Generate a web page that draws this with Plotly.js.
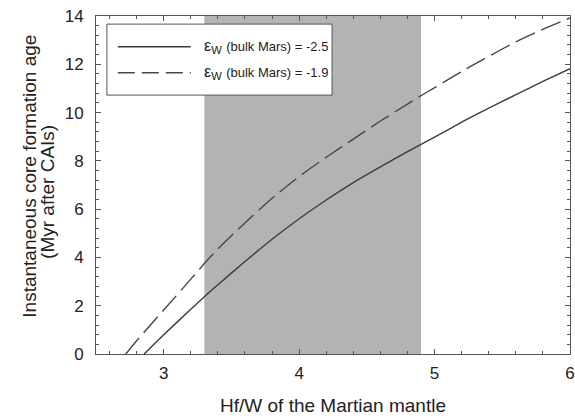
<!DOCTYPE html>
<html>
<head>
<meta charset="utf-8">
<script src="https://cdn.plot.ly/plotly-3.0.1.min.js"></script>
<style>html,body{margin:0;padding:0;background:#fff;}</style>
</head>
<body>
<div id="chart" style="width:575px;height:420px;"></div>
<script>
// Hf/W of the Martian mantle
const xSolid = [2.855, 3.0, 3.2, 3.3, 3.4, 3.6, 3.8, 4.0, 4.2, 4.4, 4.6, 4.8, 4.9, 5.0, 5.2, 5.4, 5.6, 5.8, 6.0];
// Instantaneous core formation age (Myr after CAIs), eps_W(bulk Mars) = -2.5
const ySolid = [0, 0.8, 1.85, 2.37, 2.87, 3.83, 4.75, 5.6, 6.38, 7.1, 7.75, 8.38, 8.68, 8.98, 9.6, 10.18, 10.74, 11.29, 11.82];
const xDashed = [2.72, 2.8, 3.0, 3.2, 3.3, 3.4, 3.6, 3.8, 4.0, 4.2, 4.4, 4.6, 4.8, 4.9, 5.0, 5.2, 5.4, 5.6, 5.8, 6.0];
// eps_W(bulk Mars) = -1.9
const yDashed = [0, 0.55, 1.82, 3.1, 3.75, 4.35, 5.43, 6.45, 7.35, 8.15, 8.9, 9.65, 10.35, 10.7, 11.03, 11.7, 12.33, 12.93, 13.45, 13.92];
// shaded Hf/W range of the Martian mantle
const shadeRange = [3.3, 4.9];
const xTicks = [3, 4, 5, 6];
const yTicks = [0, 2, 4, 6, 8, 10, 12, 14];
const seriesNames = ['ε<sub>W</sub> <span style="font-size:13px">(bulk Mars) = -2.5</span>',
                     'ε<sub>W</sub> <span style="font-size:13px">(bulk Mars) = -1.9</span>'];
const yTitleLines = ['Instantaneous core formation age', '(Myr after CAIs)'];
const xTitle = 'Hf/W of the Martian mantle';

const lineColor = '#3c3c3c';
const traces = [
  {x: xSolid, y: ySolid, mode: 'lines', line: {color: lineColor, width: 1.4, shape: 'spline', smoothing: 0.6}, name: 'ε_W (bulk Mars) = -2.5'},
  {x: xDashed, y: yDashed, mode: 'lines', line: {color: '#464646', width: 1.4, dash: '21px,7px', shape: 'spline', smoothing: 0.6}, name: 'ε_W (bulk Mars) = -1.9'}
];

const fam = 'Liberation Sans, Arial, sans-serif';
const txtColor = '#222';
const axisCommon = {
  showgrid: false, zeroline: false, showline: true, linecolor: '#555', linewidth: 1,
  mirror: 'allticks', ticks: 'inside', ticklen: 5, tickcolor: '#555', tickwidth: 1,
  tickfont: {family: fam, size: 17, color: txtColor}
};
const layout = {
  width: 575, height: 420,
  margin: {l: 96, r: 5, t: 16, b: 66},
  paper_bgcolor: '#fff', plot_bgcolor: '#fff',
  showlegend: false,
  font: {family: fam, color: txtColor},
  xaxis: Object.assign({}, axisCommon, {
    range: [2.5, 6], tickvals: xTicks, ticktext: xTicks.map(String),
    minor: {dtick: 0.2, tick0: 2.6, ticks: 'inside', ticklen: 3, tickcolor: '#555'},
    ticklabelstandoff: 4,
    title: {text: xTitle, font: {family: fam, size: 19, color: txtColor}, standoff: 16}
  }),
  yaxis: Object.assign({}, axisCommon, {
    range: [0, 14], tickvals: yTicks, ticktext: yTicks.map(String),
    minor: {dtick: 0.4, tick0: 0, ticks: 'inside', ticklen: 3, tickcolor: '#555'},
    ticklabelstandoff: 8
  }),
  shapes: [
    {type: 'rect', xref: 'x', yref: 'paper', x0: shadeRange[0], x1: shadeRange[1], y0: 0, y1: 1,
     fillcolor: '#b3b3b3', line: {width: 0}, layer: 'below'},
    // legend box
    {type: 'rect', xref: 'paper', yref: 'paper', x0: 0.023, x1: 0.498, y0: 0.766, y1: 0.976,
     fillcolor: '#fff', line: {color: '#555', width: 1}},
    {type: 'line', xref: 'paper', yref: 'paper', x0: 0.046, x1: 0.2, y0: 0.909, y1: 0.909,
     line: {color: lineColor, width: 1.4}},
    {type: 'line', xref: 'paper', yref: 'paper', x0: 0.046, x1: 0.2, y0: 0.832, y1: 0.832,
     line: {color: '#464646', width: 1.4, dash: '17px,7px'}}
  ],
  annotations: [
    {xref: 'paper', yref: 'paper', x: 0.224, y: 0.909, xanchor: 'left', yanchor: 'middle', showarrow: false,
     text: seriesNames[0], font: {family: fam, size: 16, color: txtColor}},
    {xref: 'paper', yref: 'paper', x: 0.224, y: 0.832, xanchor: 'left', yanchor: 'middle', showarrow: false,
     text: seriesNames[1], font: {family: fam, size: 16, color: txtColor}},
    {xref: 'paper', yref: 'paper', x: -0.141, y: 0.525, xanchor: 'center', yanchor: 'middle', showarrow: false,
     textangle: -90, text: yTitleLines[0], font: {family: fam, size: 19, color: txtColor}},
    {xref: 'paper', yref: 'paper', x: -0.101, y: 0.48, xanchor: 'center', yanchor: 'middle', showarrow: false,
     textangle: -90, text: yTitleLines[1], font: {family: fam, size: 19, color: txtColor}}
  ]
};
Plotly.newPlot('chart', traces, layout, {displayModeBar: false, staticPlot: true});
</script>
</body>
</html>
